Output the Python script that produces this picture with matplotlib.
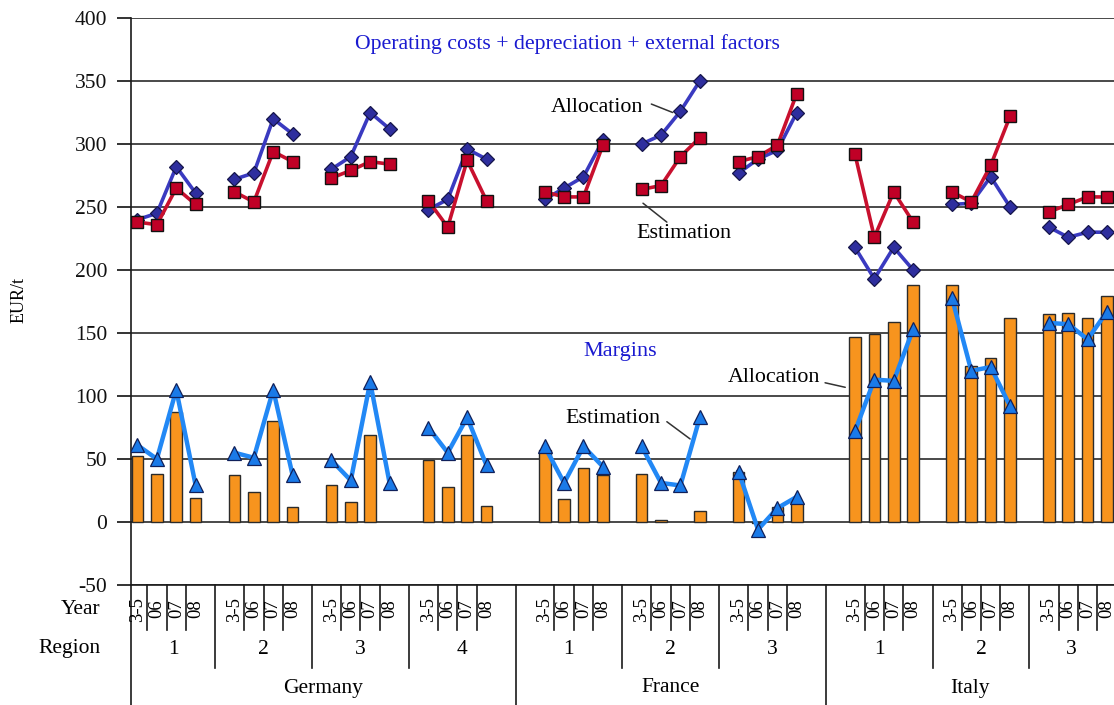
import numpy as np
import matplotlib
matplotlib.use("Agg")
import matplotlib.pyplot as plt
from matplotlib.transforms import blended_transform_factory

plt.rcParams['font.family'] = ['Liberation Serif', 'DejaVu Serif']
plt.rcParams['axes.unicode_minus'] = False

# ---------------- data ----------------
countries = ["Germany", "France", "Italy"]
regions = {"Germany": ["1", "2", "3", "4"],
           "France": ["1", "2", "3"],
           "Italy": ["1", "2", "3"]}
years = ["3-5", "06", "07", "08"]

# Operating costs + depreciation + external factors (EUR/t), one list per region
cost_allocation = [
    [240, 245, 282, 261], [272, 277, 320, 308], [280, 290, 325, 312], [248, 256, 296, 288],   # Germany
    [256, 265, 274, 303], [300, 307, 326, 350], [277, 288, 295, 325],                         # France
    [218, 193, 218, 200], [252, 253, 274, 250], [234, 226, 230, 230],                         # Italy
]
cost_estimation = [
    [238, 236, 265, 252], [262, 254, 294, 286], [273, 279, 286, 284], [255, 234, 287, 255],
    [262, 258, 258, 299], [264, 267, 290, 305], [286, 290, 299, 340],
    [292, 226, 262, 238], [262, 254, 283, 322], [246, 252, 258, 258],
]
# Margins (EUR/t)
margin_estimation = [
    [52, 38, 87, 19], [37, 24, 80, 12], [29, 16, 69, np.nan], [49, 28, 69, 13],
    [57, 18, 43, 37], [38, 1.5, np.nan, 9], [40, -1, 12, 15],
    [147, 149, 159, 188], [188, 124, 130, 162], [165, 166, 162, 179],
]
margin_allocation = [
    [61, 50, 105, 29], [55, 51, 105, 37], [49, 33, 111, 31], [75, 55, 83, 45],
    [60, 31, 60, 44], [60, 31, 29, 83], [40, -6, 11, 20],
    [72, 113, 112, 153], [178, 120, 123, 92], [158, 157, 145, 167],
]

# ---------------- colours ----------------
c_bar = '#F7941E'
c_est = '#C8102E'
c_alloc = '#3A3AC0'
c_alloc_m = '#2E2E9E'
c_marg = '#2288F5'
c_marg_m = '#1A7AE8'

# ---------------- layout of category slots ----------------
groups = []
region_div = []
country_div = []
x = 0
for ci, c in enumerate(countries):
    if ci > 0:
        country_div.append(x + 0.5)
        x += 2
    for ri, r in enumerate(regions[c]):
        if ri > 0:
            region_div.append(x)
            x += 1
        groups.append(np.arange(x, x + 4))
        x += 4

W, H = 1114, 705
fig = plt.figure(figsize=(W / 100, H / 100), dpi=100)
ax = fig.add_axes([131 / W, 1 - 585 / H, 983 / W, 567 / H])
xmin, xmax = -0.335, 50.36
ax.set_xlim(xmin, xmax)
ax.set_ylim(-50, 400)
ax.set_yticks(np.arange(-50, 401, 50))
ax.set_xticks([])
ax.yaxis.grid(True, color='#2a2a2a', lw=1.2)
ax.set_axisbelow(True)
for s in ['top', 'right']:
    ax.spines[s].set_visible(False)
for s in ['left', 'bottom']:
    ax.spines[s].set_color('#1a1a1a')
    ax.spines[s].set_linewidth(1.2)
ax.tick_params(axis='y', direction='out', length=10, width=1.2, labelsize=15.5, pad=7,
               colors='#111111')

for g, ca, ce, me, ma in zip(groups, cost_allocation, cost_estimation,
                             margin_estimation, margin_allocation):
    ax.bar(g, me, width=0.6, color=c_bar, edgecolor='#2b2b2b', linewidth=1.0, zorder=2)
    ax.plot(g, ma, color=c_marg, lw=3.2, marker='^', ms=10, mfc=c_marg_m,
            mec='#10205a', mew=0.9, zorder=4)
    ax.plot(g, ca, color=c_alloc, lw=2.6, marker='D', ms=7.5, mfc=c_alloc_m,
            mec='#15154a', mew=0.9, zorder=4)
    ax.plot(g, ce, color=c_est, lw=2.6, marker='s', ms=8.5, mfc='#C00026',
            mec='#111111', mew=1.0, zorder=5)

# ---------------- annotations ----------------
ax.text(22.15, 379, "Operating costs + depreciation + external factors", color='#1a1ad0',
        fontsize=15.7, ha='center', va='center')
ax.text(24.9, 135, "Margins", color='#1a1ad0', fontsize=16, ha='center', va='center')
lead = dict(arrowstyle='-', color='#333333', lw=1.1, shrinkA=0, shrinkB=0)
ax.text(23.7, 329, "Allocation", fontsize=15.8, ha='center', va='center')
ax.annotate("", xy=(27.6, 325), xytext=(26.5, 331.7), arrowprops=lead)
ax.text(28.2, 229, "Estimation", fontsize=15.8, ha='center', va='center')
ax.annotate("", xy=(27.3, 238), xytext=(26.07, 253), arrowprops=lead)
ax.text(32.8, 115, "Allocation", fontsize=15.8, ha='center', va='center')
ax.annotate("", xy=(36.5, 106.9), xytext=(35.46, 110.5), arrowprops=lead)
ax.text(24.5, 82.5, "Estimation", fontsize=15.8, ha='center', va='center')
ax.annotate("", xy=(28.5, 65.9), xytext=(27.3, 79.6), arrowprops=lead)

# ---------------- category table ----------------
trans = blended_transform_factory(ax.transData, ax.transAxes)
y_year, y_reg, y_cty = (585 - 609) / 567, (585 - 649) / 567, (585 - 688) / 567
y_ydiv, y_rdiv, y_cdiv = (585 - 630) / 567, (585 - 668) / 567, (585 - 706) / 567
lk = dict(color='#1a1a1a', lw=1.2, clip_on=False, transform=trans)

for g in groups:
    for xi, yr in zip(g, years):
        ax.text(xi, y_year, yr, rotation=90, ha='center', va='center', fontsize=13.5,
                transform=trans)
    for xi in g[:-1]:
        ax.plot([xi + 0.5, xi + 0.5], [0, y_ydiv], **lk)
for xd in region_div:
    ax.plot([xd, xd], [0, y_rdiv], **lk)
for xd in country_div:
    ax.plot([xd, xd], [0, y_cdiv], **lk)
ax.plot([xmin, xmin], [0, y_cdiv], **lk)

region_bounds = sorted([xmin, xmax] + region_div + country_div)
region_labels = [r for c in countries for r in regions[c]]
for a, b, lab in zip(region_bounds[:-1], region_bounds[1:], region_labels):
    ax.text((a + b) / 2, y_reg, lab, ha='center', va='center', fontsize=15.5, transform=trans)
country_bounds = [xmin] + country_div + [xmax]
for a, b, lab in zip(country_bounds[:-1], country_bounds[1:], countries):
    ax.text((a + b) / 2, y_cty, lab, ha='center', va='center', fontsize=15.5, transform=trans)

ax.text(-0.031, y_year, "Year", ha='right', va='center', fontsize=15.5, transform=ax.transAxes)
ax.text(-0.031, y_reg, "Region", ha='right', va='center', fontsize=15.5, transform=ax.transAxes)
fig.text(19 / W, 1 - 300 / H, "EUR/t", rotation=90, ha='center', va='center', fontsize=13)

fig.savefig("out.png", dpi=100)
